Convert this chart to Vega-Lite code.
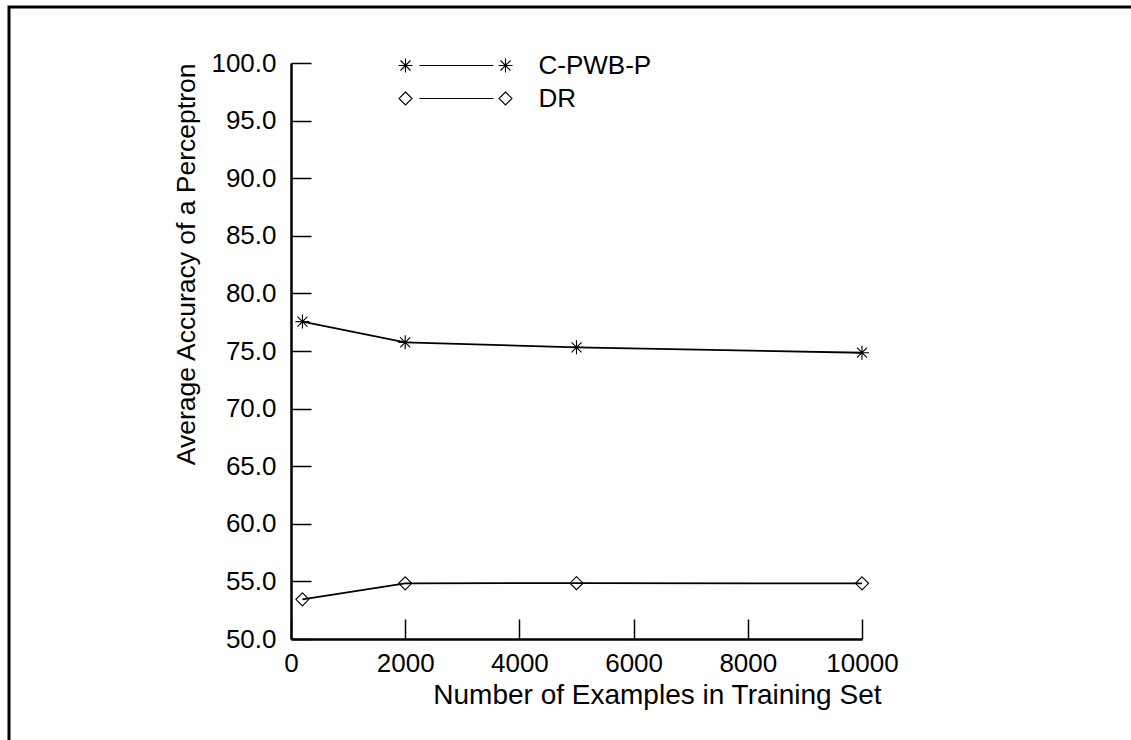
{
  "$schema": "https://vega.github.io/schema/vega-lite/v6.json",
  "autosize": "none",
  "padding": {"left": 9, "top": 7, "right": 0, "bottom": 0},
  "width": 1122,
  "height": 733,
  "background": "white",
  "config": {
    "view": {"stroke": null, "fill": null},
    "font": "Liberation Sans",
    "axis": {
      "grid": false,
      "domainColor": "black",
      "domainWidth": 2.5,
      "tickColor": "black",
      "tickWidth": 1.5,
      "labelColor": "black",
      "labelFont": "Liberation Sans",
      "labelFontSize": 26,
      "labelFlush": false,
      "titleColor": "black",
      "titleFont": "Liberation Sans",
      "titleFontSize": 26.5,
      "titleFontWeight": "normal"
    },
    "legend": {
      "labelFont": "Liberation Sans",
      "labelFontSize": 26,
      "labelColor": "black",
      "padding": 0
    }
  },
  "layer": [
    {
      "data": {"values": [{"frame": "border"}]},
      "mark": {"type": "rect", "fill": null, "stroke": "black", "strokeWidth": 3, "strokeDash": [1855, 1855], "strokeDashOffset": 733},
      "encoding": {}
    },
    {
      "data": {"name": "results"},
      "resolve": {"scale": {"shape": "independent"}},
      "layer": [
        {
          "mark": {"type": "line", "color": "black", "strokeWidth": 1.8},
          "encoding": {
            "x": {
              "field": "examples",
              "type": "quantitative",
              "scale": {"domain": [0, 10000], "range": [282, 853], "nice": false, "zero": false},
              "axis": {
                "title": "Number of Examples in Training Set",
                "orient": "bottom",
                "offset": -101,
                "values": [0, 2000, 4000, 6000, 8000, 10000],
                "format": "d",
                "tickSize": -20,
                "labelPadding": 31,
                "labelFlush": false,
                "titleAnchor": "end",
                "titleX": 872,
                "titleFontSize": 28,
                "titlePadding": 5
              }
            },
            "y": {
              "field": "accuracy",
              "type": "quantitative",
              "scale": {"domain": [50, 100], "range": [632, 56], "nice": false, "zero": false},
              "axis": {
                "title": "Average Accuracy of a Perceptron",
                "orient": "left",
                "offset": -282,
                "values": [50, 55, 60, 65, 70, 75, 80, 85, 90, 95, 100],
                "format": ".1f",
                "tickSize": -20,
                "labelPadding": 35,
                "labelFlush": false,
                "titleAnchor": "end",
                "titlePadding": 10
              }
            },
            "detail": {"field": "series"}
          }
        },
        {
          "mark": {"type": "point", "filled": false, "stroke": "black", "strokeWidth": 1.1, "size": 4, "opacity": 1},
          "encoding": {
            "x": {"field": "examples", "type": "quantitative"},
            "y": {"field": "accuracy", "type": "quantitative"},
            "shape": {
              "field": "series",
              "type": "nominal",
              "scale": {
                "domain": ["C-PWB-P", "DR"],
                "range": [
                  "M-7,0L7,0M0,-7L0,7M-5,-5L5,5M-5,5L5,-5",
                  "M0,-6.5L6.5,0L0,6.5L-6.5,0Z"
                ]
              },
              "legend": null
            }
          }
        },
        {
          "mark": {"type": "point", "filled": false, "stroke": "black", "color": "black", "strokeWidth": 1.1, "size": 4, "opacity": 0},
          "encoding": {
            "x": {"field": "examples", "type": "quantitative"},
            "y": {"field": "accuracy", "type": "quantitative"},
            "shape": {
              "field": "series",
              "type": "nominal",
              "scale": {
                "domain": ["C-PWB-P", "DR"],
                "range": [
                  "M-7,0L7,0M0,-7L0,7M-5,-5L5,5M-5,5L5,-5M14,0L88,0M93,0L107,0M100,-7L100,7M95,-5L105,5M95,5L105,-5",
                  "M0,-6.5L6.5,0L0,6.5L-6.5,0ZM14,0L88,0M100,-6.5L106.5,0L100,6.5L93.5,0Z"
                ]
              },
              "legend": {
                "title": null,
                "orient": "none",
                "legendX": 383.5,
                "legendY": 45.5,
                "symbolSize": 4,
                "symbolOpacity": 1,
                "symbolStrokeColor": "black",
                "symbolStrokeWidth": 1.1,
                "symbolFillColor": "transparent",
                "labelOffset": 120,
                "rowPadding": 7,
                "labelLimit": 400
              }
            }
          }
        }
      ]
    }
  ],
  "datasets": {
    "results": [
      {"series": "C-PWB-P", "examples": 200, "accuracy": 77.55},
      {"series": "C-PWB-P", "examples": 2000, "accuracy": 75.75},
      {"series": "C-PWB-P", "examples": 5000, "accuracy": 75.32},
      {"series": "C-PWB-P", "examples": 10000, "accuracy": 74.85},
      {"series": "DR", "examples": 200, "accuracy": 53.44},
      {"series": "DR", "examples": 2000, "accuracy": 54.83},
      {"series": "DR", "examples": 5000, "accuracy": 54.85},
      {"series": "DR", "examples": 10000, "accuracy": 54.83}
    ]
  }
}
